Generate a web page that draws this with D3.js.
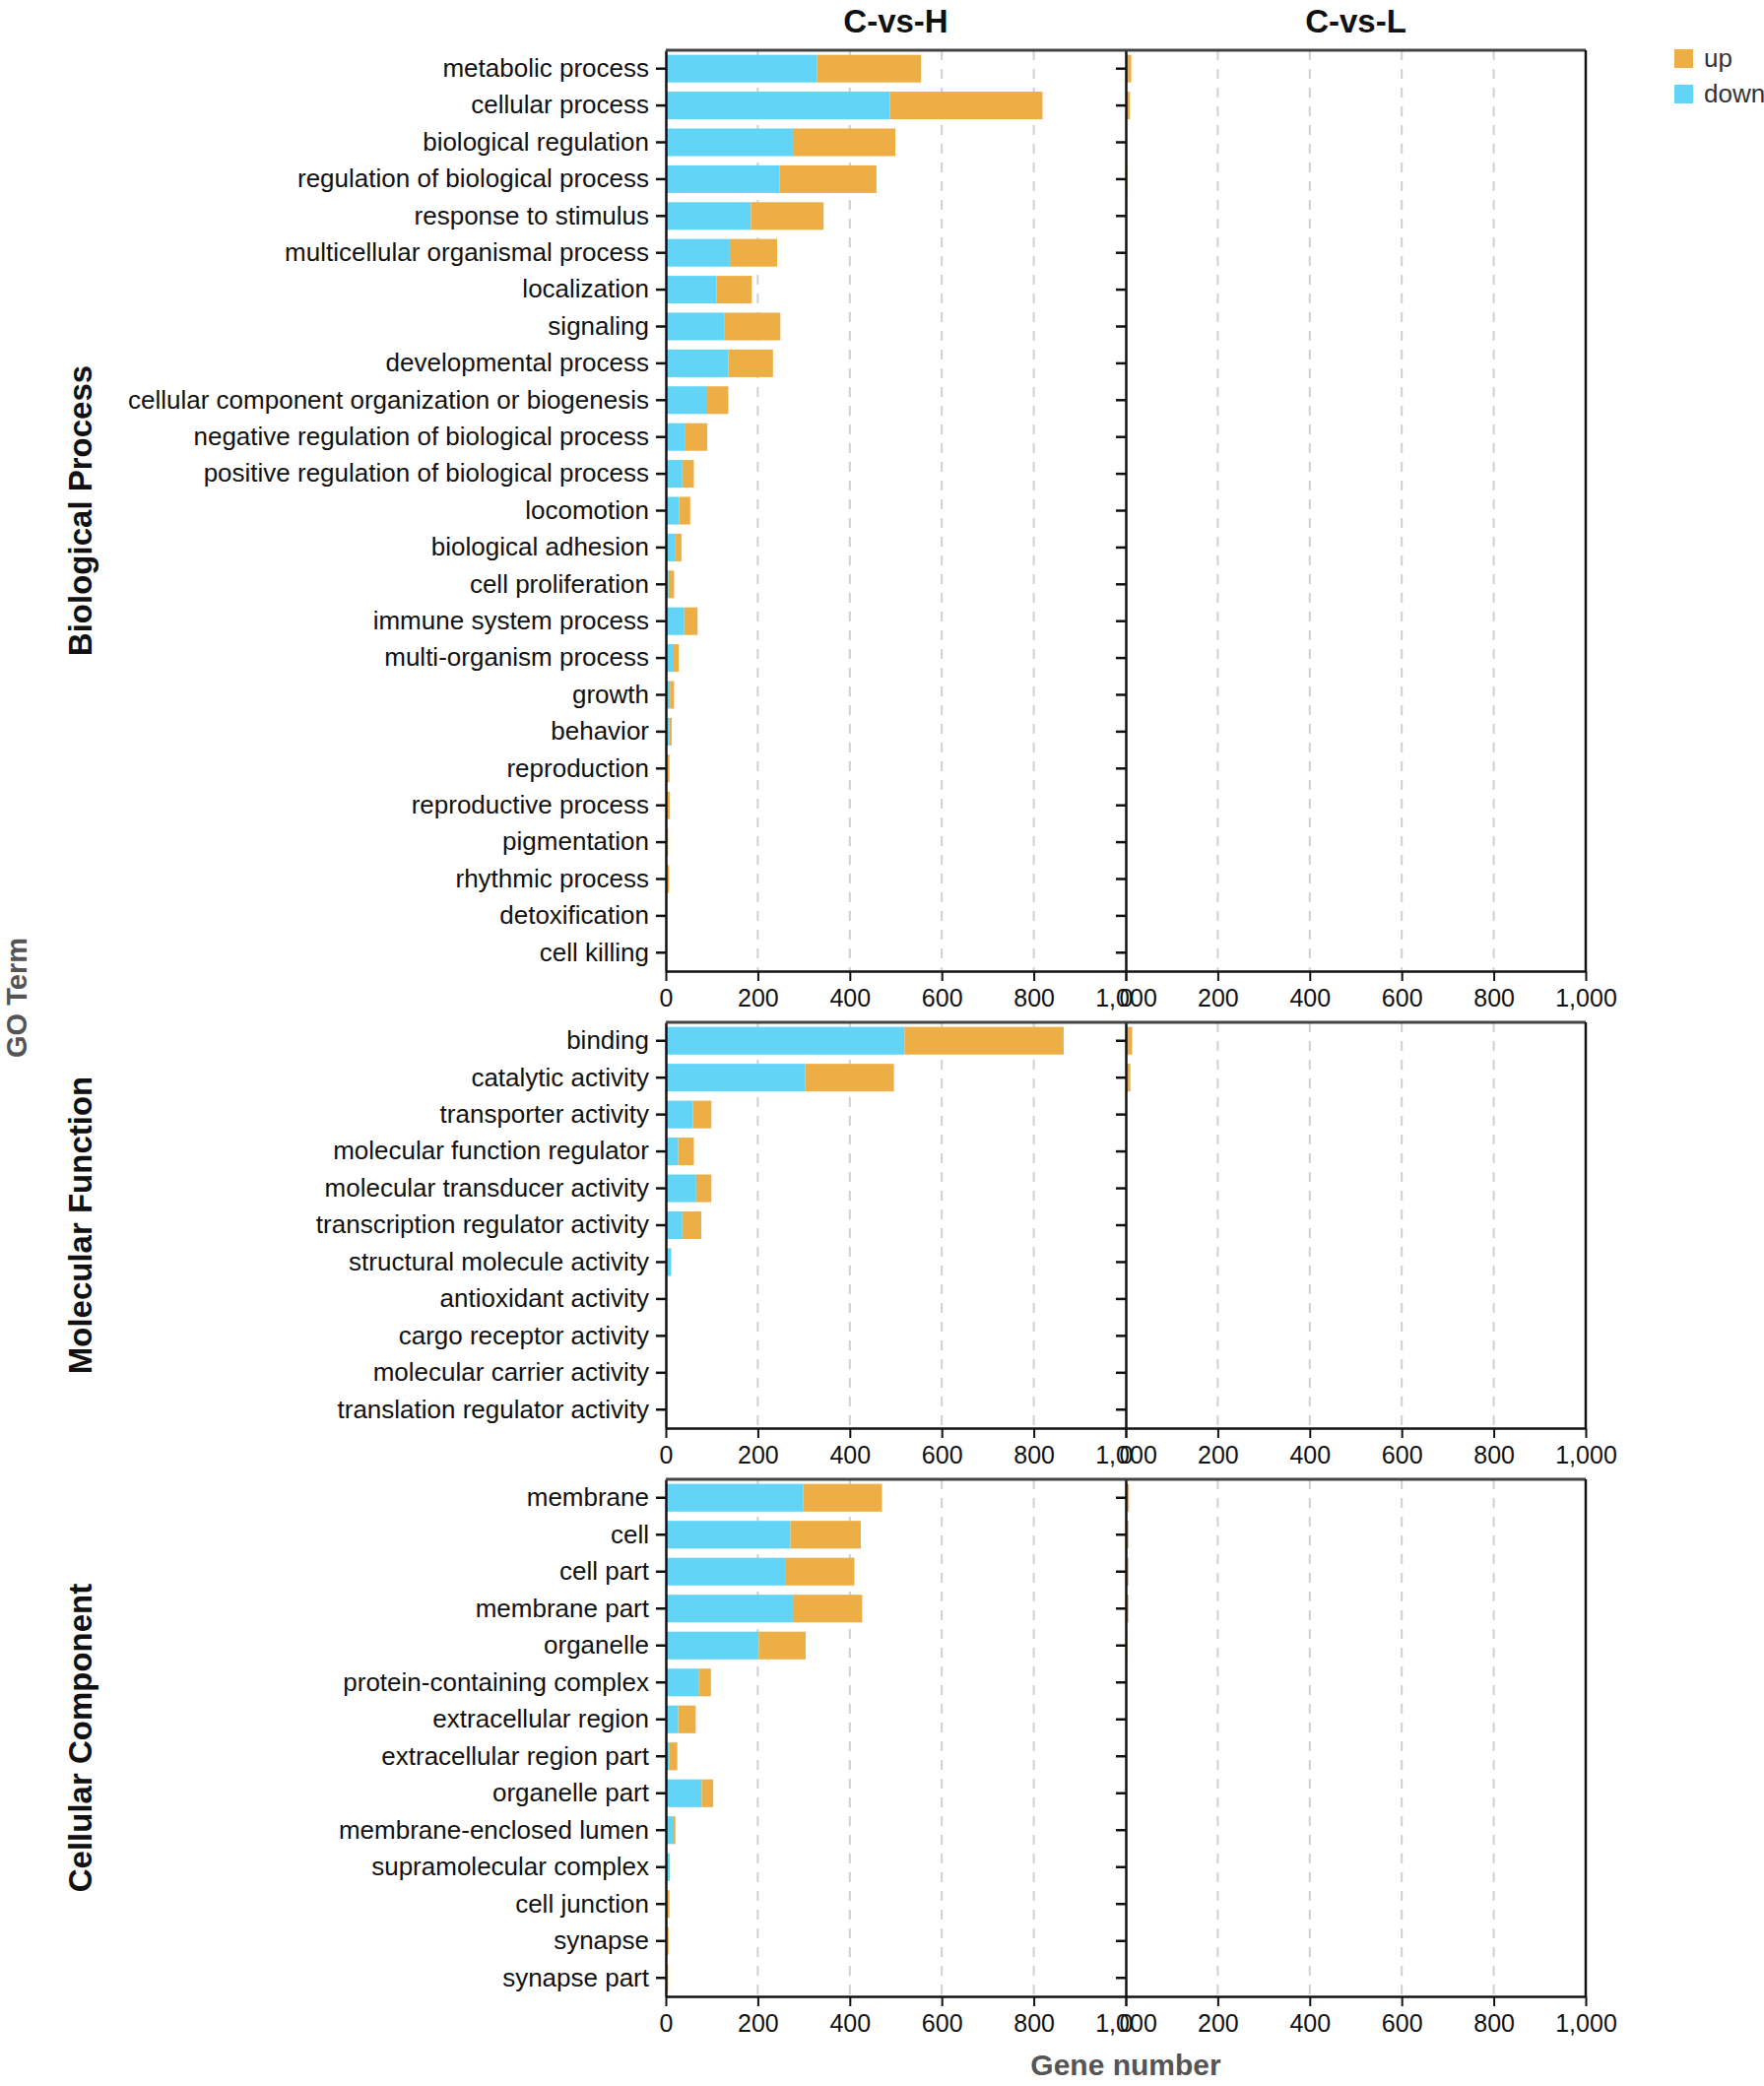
<!DOCTYPE html>
<html>
<head>
<meta charset="utf-8">
<script src="https://cdn.jsdelivr.net/npm/d3@7"></script>
<style>
html,body{margin:0;padding:0;background:#fff;}
svg{display:block;font-family:"Liberation Sans",Arial,sans-serif;}
</style>
</head>
<body>
<svg id="chart" width="1791" height="2118"></svg>
<script>
// ---------- DATA ----------
const comparisons = ["C-vs-H", "C-vs-L"];
const seriesNames = ["up", "down"];
const xTicks = [0, 200, 400, 600, 800, 1000];

const bpTerms = ["metabolic process","cellular process","biological regulation","regulation of biological process","response to stimulus","multicellular organismal process","localization","signaling","developmental process","cellular component organization or biogenesis","negative regulation of biological process","positive regulation of biological process","locomotion","biological adhesion","cell proliferation","immune system process","multi-organism process","growth","behavior","reproduction","reproductive process","pigmentation","rhythmic process","detoxification","cell killing"];
const bpDownH = [329,487,276,247,185,139,110,128,136,90,41,36,29,21,6,40,15,9,7,1,2,4,1,1,0];
const bpUpH   = [226,332,223,211,158,103,77,121,97,46,49,25,24,13,12,29,13,9,6,7,7,1,6,0,0];
const bpDownL = [0,0,0,0,0,0,0,0,0,0,0,0,0,0,0,0,0,0,0,0,0,0,0,0,0];
const bpUpL   = [12,9,2,3,1,0,0,0,0,0,0,0,0,0,0,0,0,0,0,0,0,0,0,0,0];

const mfTerms = ["binding","catalytic activity","transporter activity","molecular function regulator","molecular transducer activity","transcription regulator activity","structural molecule activity","antioxidant activity","cargo receptor activity","molecular carrier activity","translation regulator activity"];
const mfDownH = [519,303,59,27,66,36,11,1,0,0,0];
const mfUpH   = [346,193,40,34,33,41,1,0,0,0,0];
const mfDownL = [0,0,0,0,0,0,0,0,0,0,0];
const mfUpL   = [14,10,0,0,0,0,0,0,0,0,0];

const ccTerms = ["membrane","cell","cell part","membrane part","organelle","protein-containing complex","extracellular region","extracellular region part","organelle part","membrane-enclosed lumen","supramolecular complex","cell junction","synapse","synapse part"];
const ccDownH = [299,271,261,276,202,71,27,8,78,15,9,1,3,3];
const ccUpH   = [171,153,149,151,102,27,38,17,25,6,0,7,3,2];
const ccDownL = [0,0,0,0,0,0,0,0,0,0,0,0,0,0];
const ccUpL   = [7,6,6,6,3,1,0,0,0,0,0,0,0,0];

const groups = [
  {name:"Biological Process", terms:bpTerms, H:{down:bpDownH, up:bpUpH}, L:{down:bpDownL, up:bpUpL}},
  {name:"Molecular Function", terms:mfTerms, H:{down:mfDownH, up:mfUpH}, L:{down:mfDownL, up:mfUpL}},
  {name:"Cellular Component", terms:ccTerms, H:{down:ccDownH, up:ccUpH}, L:{down:ccDownL, up:ccUpL}}
];

// ---------- LAYOUT ----------
const colors = {up:"#EDAF45", down:"#62D5F6"};
const panelX = [[676,1143],[1143,1610]];
const panelY = [[51,986],[1038,1450],[1502,2027]];

const svg = d3.select("#chart");

const xScales = panelX.map(r => d3.scaleLinear().domain([0,1000]).range(r));

groups.forEach((g, gi) => {
  const [y0, y1] = panelY[gi];
  const y = d3.scaleBand().domain(g.terms).range([y0, y1]).paddingInner(0.25).paddingOuter(0.125);
  const G = svg.append("g");

  comparisons.forEach((comp, ci) => {
    const x = xScales[ci];
    const data = ci === 0 ? g.H : g.L;
    // grid lines
    G.append("g").selectAll("line").data(xTicks.slice(1,5)).join("line")
      .attr("x1", d=>x(d)).attr("x2", d=>x(d))
      .attr("y1", y0).attr("y2", y1)
      .attr("stroke", "#cfcfcf").attr("stroke-width", 2)
      .attr("stroke-dasharray", "10,9");
    // bars
    const rows = g.terms.map((t,i)=>({term:t, down:data.down[i], up:data.up[i]}));
    const barG = G.append("g");
    barG.selectAll("rect.down").data(rows).join("rect")
      .attr("class","down")
      .attr("x", x(0)).attr("y", d=>y(d.term))
      .attr("width", d=>x(d.down)-x(0)).attr("height", y.bandwidth())
      .attr("fill", colors.down);
    barG.selectAll("rect.up").data(rows).join("rect")
      .attr("class","up")
      .attr("x", d=>x(d.down)).attr("y", d=>y(d.term))
      .attr("width", d=>x(d.down+d.up)-x(d.down)).attr("height", y.bandwidth())
      .attr("fill", colors.up);

    // x axis
    const xa = G.append("g").attr("transform", `translate(0,${y1})`)
      .call(d3.axisBottom(x).tickValues(xTicks).tickFormat(d3.format(",")).tickSize(10).tickSizeOuter(0).tickPadding(8));
    xa.select(".domain").attr("stroke","#111").attr("stroke-width",2.5);
    xa.selectAll(".tick line").attr("stroke","#111").attr("stroke-width",2);
    xa.selectAll(".tick text").attr("font-size",25).attr("fill","#111")
      .attr("font-family","'Liberation Sans',Arial,sans-serif");

    // y axis
    const ya = G.append("g").attr("transform", `translate(${x(0)},0)`)
      .call(d3.axisLeft(y).tickSize(10).tickSizeOuter(0).tickPadding(7));
    ya.select(".domain").attr("stroke","#111").attr("stroke-width",2.5);
    ya.selectAll(".tick line").attr("stroke","#111").attr("stroke-width",2.5);
    ya.selectAll(".tick text").attr("font-size",26).attr("fill","#111")
      .attr("font-family","'Liberation Sans',Arial,sans-serif")
      .style("display", ci === 0 ? null : "none");

    // top border
    G.append("line").attr("x1", x.range()[0]).attr("x2", x.range()[1])
      .attr("y1", y0).attr("y2", y0).attr("stroke","#444").attr("stroke-width",3);
    // right border
    if (ci === 1) {
      G.append("line").attr("x1", x.range()[1]).attr("x2", x.range()[1])
        .attr("y1", y0).attr("y2", y1).attr("stroke","#111").attr("stroke-width",2.5);
    }
  });

  // group label
  svg.append("text")
    .attr("transform", `translate(93,${(y0+y1)/2}) rotate(-90)`)
    .attr("text-anchor","middle")
    .attr("font-size",33).attr("font-weight","bold").attr("fill","#111")
    .text(g.name);
});

// panel titles
comparisons.forEach((c, ci) => {
  const r = xScales[ci].range();
  svg.append("text").attr("x",(r[0]+r[1])/2).attr("y",33)
    .attr("text-anchor","middle").attr("font-size",33).attr("font-weight","bold")
    .attr("fill","#111").text(c);
});

// GO Term label
svg.append("text")
  .attr("transform","translate(27,1013) rotate(-90)")
  .attr("text-anchor","middle").attr("font-size",29).attr("font-weight","bold")
  .attr("fill","#555").text("GO Term");

// x label
svg.append("text").attr("x",1143).attr("y",2107)
  .attr("text-anchor","middle").attr("font-size",30).attr("font-weight","bold")
  .attr("fill","#555").text("Gene number");

// legend
const legend = svg.append("g").attr("transform","translate(1700,50)");
seriesNames.forEach((s,i)=>{
  legend.append("rect").attr("x",0).attr("y",i*36).attr("width",19).attr("height",19).attr("fill",colors[s]);
  legend.append("text").attr("x",30).attr("y",i*36+18).attr("font-size",26).attr("fill","#333").text(s);
});
</script>
</body>
</html>
